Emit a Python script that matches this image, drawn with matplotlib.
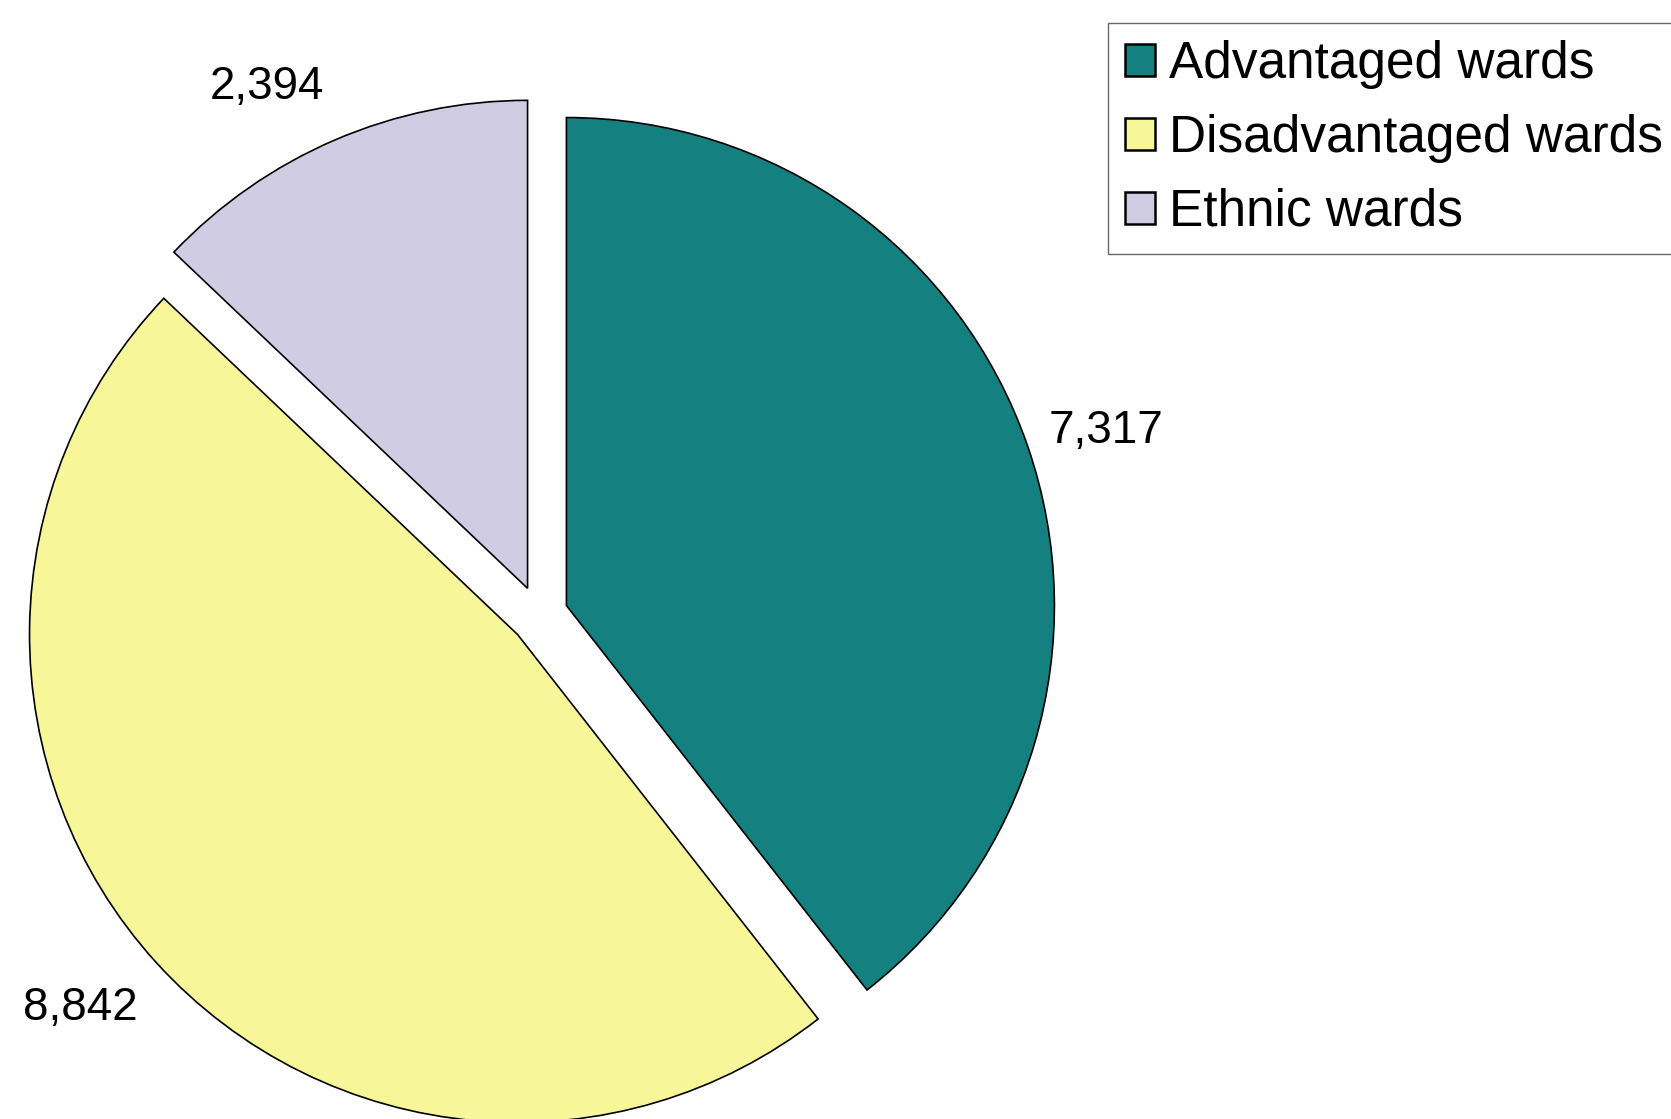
import numpy as np
import matplotlib.pyplot as plt

plt.rcParams['font.family'] = ['Liberation Sans', 'DejaVu Sans']

categories = ['Advantaged wards', 'Disadvantaged wards', 'Ethnic wards']
values = [7317, 8842, 2394]
value_labels = ['7,317', '8,842', '2,394']
colors = ['#148080', '#F7F799', '#CFCCE3']

W, H = 1671, 1119
fig = plt.figure(figsize=(W / 100, H / 100), dpi=100)
ax = fig.add_axes([0, 0, 1, 1])

radius = 488
center = (539, H - 615)
wedges, texts = ax.pie(values, labels=value_labels, colors=colors,
                       startangle=90, counterclock=False,
                       explode=[29] * len(values), radius=radius, center=center,
                       labeldistance=1.16, frame=True,
                       wedgeprops=dict(edgecolor='black', linewidth=1.2),
                       textprops=dict(fontsize=33))
# nudge labels (pixels, +dy = downwards) to sit where the original put them
nudge = [(4, 10), (-18, -7), (-37, 19)]
for t, (dx, dy) in zip(texts, nudge):
    x, y = t.get_position()
    t.set_position((x + dx, y - dy))
    t.set_ha('center')
    t.set_va('center')
ax.set_xlim(0, W)
ax.set_ylim(0, H)
ax.set_aspect('equal')
ax.axis('off')

leg = ax.legend(wedges, categories, loc='upper left',
                bbox_to_anchor=(1108 / W, 1 - 23 / H), bbox_transform=fig.transFigure,
                borderaxespad=0, fontsize=37, frameon=True, fancybox=False,
                handlelength=0.58, handleheight=0.58, handletextpad=0.27,
                labelspacing=0.48, borderpad=0.34)
leg.get_frame().set_edgecolor('#444444')
leg.get_frame().set_linewidth(1.0)
for h in leg.legend_handles:
    h.set_linewidth(1.8)

fig.savefig('out.png', dpi=100)
